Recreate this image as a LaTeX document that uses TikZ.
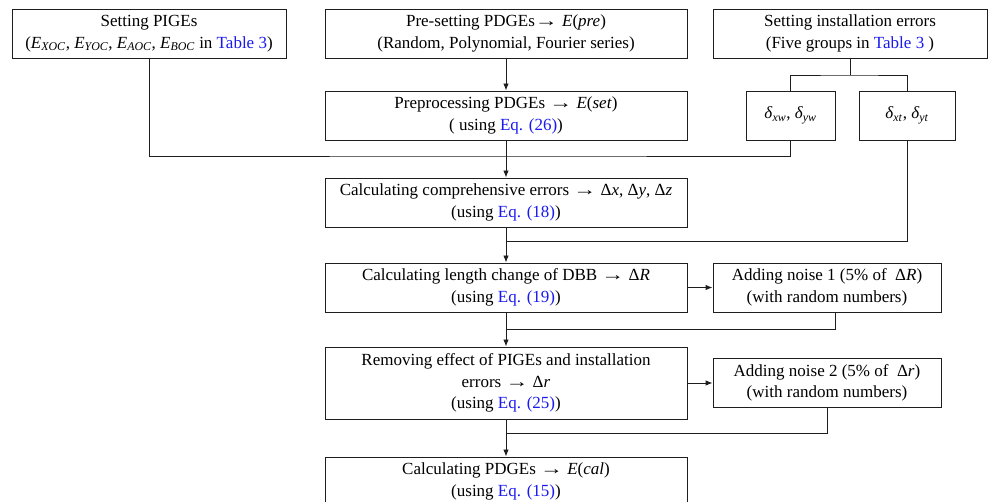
\documentclass[tikz,border=0pt]{standalone}
\usepackage{fontspec}
\setmainfont{Liberation Serif}
\usetikzlibrary{arrows.meta}
\definecolor{linkblue}{RGB}{25,25,240}
\definecolor{edgecol}{RGB}{30,30,30}
\newcommand{\isub}[2]{\textit{#1}\textsubscript{\textit{#2}}}
\newcommand{\lk}[1]{\textcolor{linkblue}{#1}}
\newcommand{\toarr}{\scalebox{1.35}[1]{→}}
\begin{document}
\begin{tikzpicture}[x=1pt,y=1pt,
  box/.style={draw=edgecol,line width=0.9pt,align=center,inner sep=0pt,
    font=\fontsize{17}{21.5}\selectfont,minimum height=49pt},
  conn/.style={draw=edgecol,line width=0.9pt},
  arr/.style={conn,-{Latex[length=7pt,width=5.5pt]}}]
\useasboundingbox (0,0) rectangle (989,-502);
\clip (0,0) rectangle (989,-502);
\node[box,minimum width=274pt] (b1) at (149,-33.5)
  {Setting PIGEs\\(\isub{E}{XOC}, \isub{E}{YOC}, \isub{E}{AOC}, \isub{E}{BOC} in \lk{Table 3})};
\node[box,minimum width=362pt] (b2) at (506,-33.5)
  {Pre-setting PDGEs\toarr{} \textit{E}(\textit{pre})\\(Random, Polynomial, Fourier series)};
\node[box,minimum width=274pt] (b4) at (850,-33.5)
  {Setting installation errors\\(Five groups in \lk{Table 3} )};
\node[box,minimum width=362pt] (b3) at (506,-115.5)
  {Preprocessing PDGEs \toarr{} \textit{E}(\textit{set})\\( using \lk{Eq. (26)})};
\node[box,minimum width=89pt] (bxw) at (790.5,-115.5)
  {\isub{δ}{xw}, \isub{δ}{yw}};
\node[box,minimum width=96pt] (bxt) at (907,-115.5)
  {\isub{δ}{xt}, \isub{δ}{yt}};
\node[box,minimum width=362pt] (b5) at (506,-202.5)
  {Calculating comprehensive errors \toarr{} Δ\textit{x}, Δ\textit{y}, Δ\textit{z}\\(using \lk{Eq. (18)})};
\node[box,minimum width=362pt] (b6) at (506,-287.5)
  {Calculating length change of DBB \toarr{} Δ\textit{R}\\(using \lk{Eq. (19)})};
\node[box,minimum width=228pt] (n1) at (827,-287.5)
  {Adding noise 1 (5\% of ~Δ\textit{R})\\(with random numbers)};
\node[box,minimum width=362pt,minimum height=72pt] (b7) at (506,-383)
  {Removing effect of PIGEs and installation\\errors \toarr{} Δ\textit{r}\\(using \lk{Eq. (25)})};
\node[box,minimum width=228pt] (n2) at (827,-383)
  {Adding noise 2 (5\% of ~Δ\textit{r})\\(with random numbers)};
\node[box,minimum width=362pt] (b8) at (506,-481.5)
  {Calculating PDGEs \toarr{} \textit{E}(\textit{cal})\\(using \lk{Eq. (15)})};
\coordinate (j1) at (506,-156);
\coordinate (j2) at (850,-75);
\coordinate (j3) at (506,-241);
\coordinate (j4) at (506,-329);
\coordinate (j5) at (506,-433);
% connectors
\draw[conn] (b1.south) |- (j1) -| (bxw.south);
\draw[arr] (b2.south) -- (b3.north);
\draw[arr] (b3.south) -- (b5.north);
\draw[conn] (b4.south) -- (j2);
\draw[conn] (bxw.north) |- (j2) -| (bxt.north);
\draw[conn] (bxt.south) |- (j3);
\draw[arr] (b5.south) -- (b6.north);
\draw[arr] (b6.east) -- (n1.west);
\draw[conn] ([xshift=8pt]n1.south) |- (j4);
\draw[arr] (b6.south) -- (b7.north);
\draw[arr] (b7.east) -- (n2.west);
\draw[conn] (n2.south) |- (j5);
\draw[arr] (b7.south) -- (b8.north);
\end{tikzpicture}
\end{document}
